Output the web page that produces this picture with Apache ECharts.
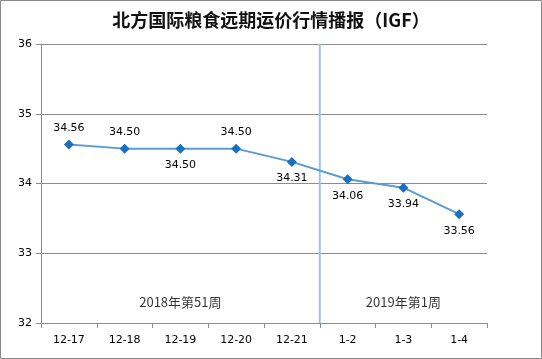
<!DOCTYPE html>
<html><head><meta charset="utf-8">
<script src="https://cdn.jsdelivr.net/npm/echarts@6/dist/echarts.min.js"></script>
<style>html,body{margin:0;padding:0;background:#fff}#c{width:542px;height:359px}</style>
</head><body><div id="c"></div>
<script>
const categories = ['12-17','12-18','12-19','12-20','12-21','1-2','1-3','1-4'];
const values = [34.56, 34.50, 34.50, 34.50, 34.31, 34.06, 33.94, 33.56];
const labelPos = ['top','top','bottom','top','bottom','bottom','bottom','bottom'];
const weekLabels = ['2018年第51周', '2019年第1周'];
const weekCenters = [2.5, 6.5];
const weekLabelY = 32.3;
const dividerX = 5;

const chart = echarts.init(document.getElementById('c'), null, {renderer:'canvas'});
const font = '"DejaVu Sans", Verdana, sans-serif';
chart.setOption({
  animation: false,
  title: {
    text: '北方国际粮食远期运价行情播报（IGF）',
    left: 'center', top: 6,
    textStyle: {fontFamily: '"Noto Sans CJK SC", sans-serif', fontSize: 18, fontWeight: 'bold', color: '#111'}
  },
  graphic: [{type:'rect', shape:{x:0.5,y:0.5,width:541,height:358}, style:{fill:'none', stroke:'#8a8a8a', lineWidth:1}, silent:true}],
  grid: {left: 41, right: 55, top: 44, bottom: 36},
  xAxis: [{
    type: 'category', data: categories, boundaryGap: true,
    axisLine: {lineStyle: {color: '#8c8c8c'}},
    axisTick: {show: true, length: 5, lineStyle: {color: '#8c8c8c'}},
    axisLabel: {color: '#000', fontFamily: font, fontSize: 11, margin: 12},
    splitLine: {show: false}
  }, {
    type: 'value', min: 0, max: 8, show: false
  }],
  yAxis: {
    type: 'value', min: 32, max: 36, interval: 1,
    axisLine: {show: true, lineStyle: {color: '#8c8c8c'}},
    axisTick: {show: true, length: 5, lineStyle: {color: '#8c8c8c'}},
    axisLabel: {color: '#000', fontFamily: font, fontSize: 11, margin: 9},
    splitLine: {lineStyle: {color: '#8c8c8c'}}
  },
  series: [{
    type: 'line', xAxisIndex: 1, data: [[dividerX, 32], [dividerX, 36]],
    symbol: 'none', lineStyle: {color: '#9dc3e6', width: 2}, silent: true, z: 1
  }, {
    type: 'scatter', xAxisIndex: 1,
    data: weekCenters.map((x, i) => ({value: [x, weekLabelY], label: {formatter: weekLabels[i]}})),
    symbolSize: 0,
    label: {show: true, position: 'inside', color: '#000', fontSize: 13, fontFamily: '"Noto Sans CJK SC", sans-serif'},
    silent: true
  }, {
    type: 'line', data: values.map((v, i) => ({value: v, label: {position: labelPos[i]}})),
    symbol: 'diamond', symbolSize: 10,
    itemStyle: {color: '#1a6fc0'},
    lineStyle: {color: '#5b9bd5', width: 2},
    label: {show: true, formatter: p => p.value.toFixed(2), color: '#000', fontFamily: font, fontSize: 11, distance: 6},
    z: 3
  }]
});
</script></body></html>
